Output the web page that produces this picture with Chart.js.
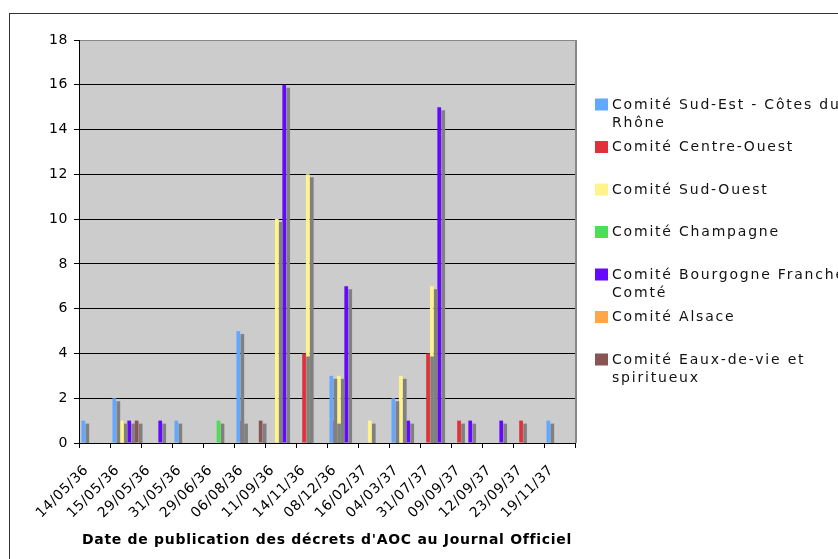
<!DOCTYPE html>
<html>
<head>
<meta charset="utf-8">
<script src="https://cdn.jsdelivr.net/npm/chart.js@4"></script>
<style>
  html, body { margin:0; padding:0; background:#fff; }
  #wrap { width:838px; height:559px; position:relative; overflow:hidden; }
</style>
</head>
<body>
<div id="wrap"><canvas id="c" width="838" height="559"></canvas></div>
<script>
// --- DATA ---
const dates = ['14/05/36','15/05/36','29/05/36','31/05/36','29/06/36','06/08/36','11/09/36','14/11/36',
               '08/12/36','16/02/37','04/03/37','31/07/37','09/09/37','12/09/37','23/09/37','19/11/37'];
const sudEst      = [1,2,0,1,0,5,0,0,3,0,2,0,0,0,0,1];
const centreOuest = [0,0,0,0,0,1,0,4,1,0,0,4,1,0,1,0];
const sudOuest    = [0,1,0,0,0,0,10,12,3,1,3,7,0,0,0,0];
const champagne   = [0,0,0,0,1,0,0,0,0,0,0,0,0,0,0,0];
const bourgogne   = [0,1,1,0,0,0,16,0,7,0,1,15,1,1,0,0];
const alsace      = [0,0,0,0,0,0,0,0,0,0,0,0,0,0,0,0];
const eauxDeVie   = [0,1,0,0,0,1,0,0,0,0,0,0,0,0,0,0];
const yTicks = [0,2,4,6,8,10,12,14,16,18];

// legend lines (as wrapped in the original)
const seriesNames = [
  ['Comité Sud-Est - Côtes du', 'Rhône'],
  ['Comité Centre-Ouest'],
  ['Comité Sud-Ouest'],
  ['Comité Champagne'],
  ['Comité Bourgogne Franche', 'Comté'],
  ['Comité Alsace'],
  ['Comité Eaux-de-vie et', 'spiritueux']
];
const seriesColors = ['#62a8ff','#e0303a','#fff38a','#4cdf55','#6608ff','#ffa64a','#8b5454'];
const seriesData = [sudEst, centreOuest, sudOuest, champagne, bourgogne, alsace, eauxDeVie];
const xTitle = "Date de publication des décrets d'AOC au Journal Officiel";

const FONT = 'DejaVu Sans';

// --- PLUGINS ---
const background = {
  id: 'background',
  beforeDraw(chart) {
    const { ctx, chartArea: a } = chart;
    ctx.save();
    ctx.fillStyle = '#fff';
    ctx.fillRect(0, 0, chart.width, chart.height);
    ctx.strokeStyle = '#333';
    ctx.lineWidth = 1;
    ctx.strokeRect(9.5, 13.5, 900, 600);
    ctx.fillStyle = '#cccccc';
    ctx.fillRect(a.left, a.top, a.right - a.left, a.bottom - a.top);
    ctx.restore();
    ctx.letterSpacing = '0.6px';
  }
};

// gray side shadow of every bar (3D look)
const barShadow = {
  id: 'barShadow',
  beforeDatasetDraw(chart) {
    const ctx = chart.ctx;
    ctx.save();
    ctx.shadowColor = '#808080';
    ctx.shadowOffsetX = 4;
    ctx.shadowOffsetY = 3;
    ctx.shadowBlur = 0;
  },
  afterDatasetDraw(chart) {
    chart.ctx.restore();
  }
};

const frameAndLegend = {
  id: 'frameAndLegend',
  afterDraw(chart) {
    const { ctx, chartArea: a } = chart;
    ctx.save();
    // right border of the plot
    ctx.strokeStyle = '#888';
    ctx.lineWidth = 2;
    ctx.beginPath();
    ctx.moveTo(a.right + 1, a.top);
    ctx.lineTo(a.right + 1, a.bottom);
    ctx.stroke();

    // x axis title
    ctx.fillStyle = '#000';
    ctx.font = 'bold 14px "' + FONT + '"';
    ctx.letterSpacing = '0.7px';
    ctx.textAlign = 'center';
    ctx.textBaseline = 'middle';
    ctx.fillText(xTitle, (a.left + a.right) / 2, 540);

    // legend
    ctx.font = '14px "' + FONT + '"';
    ctx.letterSpacing = '1.8px';
    ctx.textAlign = 'left';
    chart.data.datasets.forEach((ds, i) => {
      const y = 105 + i * 42.5;
      ctx.fillStyle = ds.backgroundColor;
      ctx.fillRect(595, y - 6.5, 13, 12);
      ctx.fillStyle = '#111';
      seriesNames[i].forEach((line, k) => ctx.fillText(line, 612, y + k * 18));
    });
    ctx.restore();
  }
};

// --- CHART ---
new Chart(document.getElementById('c'), {
  type: 'bar',
  data: {
    labels: dates,
    datasets: seriesData.map((d, i) => ({
      label: seriesNames[i].join(' '),
      data: d,
      backgroundColor: seriesColors[i],
      borderWidth: 0,
      clip: 0
    }))
  },
  options: {
    responsive: false,
    devicePixelRatio: 1,
    animation: false,
    events: [],
    categoryPercentage: 0.84,
    barPercentage: 1.0,
    layout: { padding: { left: 20, right: 263, top: 40, bottom: 16 } },
    plugins: { legend: { display: false }, tooltip: { enabled: false } },
    scales: {
      x: {
        grid: { offset: true, drawOnChartArea: false, drawTicks: true, tickLength: 5, color: '#000' },
        border: { color: '#000', width: 1 },
        ticks: {
          autoSkip: false, minRotation: 45, maxRotation: 45, padding: 14, labelOffset: -8,
          color: '#000', font: { family: FONT, size: 14 }
        },
        afterFit(s) { s.height = 100; }
      },
      y: {
        min: 0, max: 18,
        afterBuildTicks(s) { s.ticks = yTicks.map(v => ({ value: v })); },
        grid: {
          color: c => (c.tick && c.tick.value === 18) ? '#888' : '#000',
          tickColor: '#000', tickLength: 5, lineWidth: 1
        },
        border: { color: '#000', width: 1 },
        ticks: { padding: 6, color: '#000', font: { family: FONT, size: 14 } },
        afterFit(s) { s.width = 59; }
      }
    }
  },
  plugins: [background, barShadow, frameAndLegend]
});
</script>
</body>
</html>
